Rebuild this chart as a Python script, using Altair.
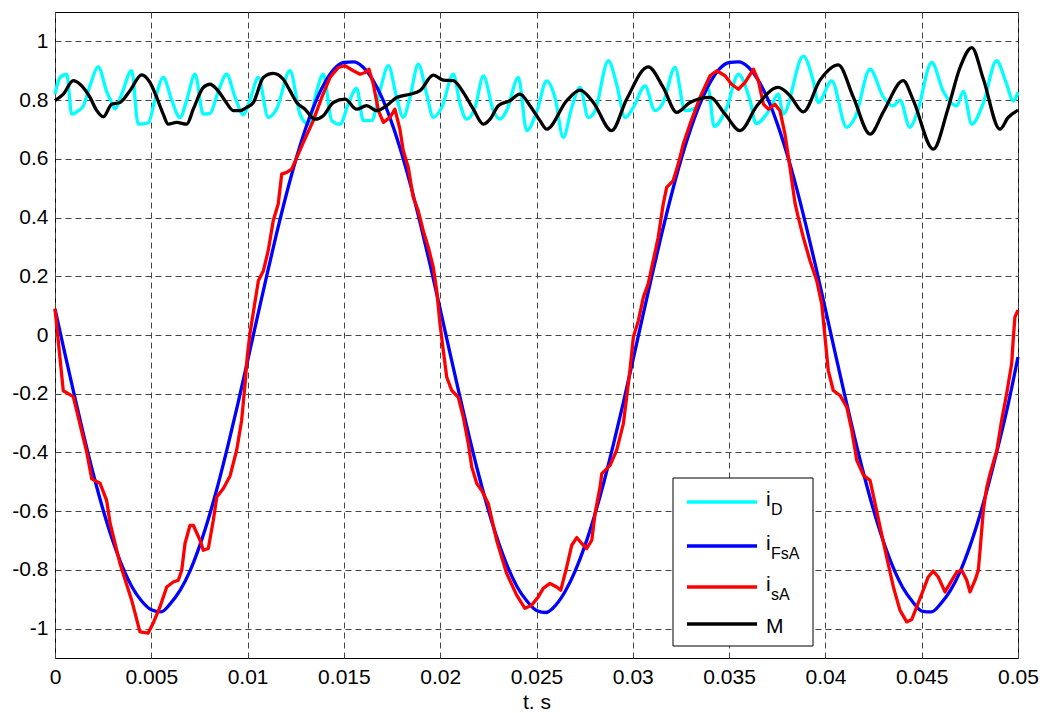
import altair as alt
import pandas as pd

# ---------------- data (time in ms) ----------------
iD_t_ms = [0, 0.26, 0.61, 0.87, 1.21, 1.47, 1.82, 2.25, 2.68, 2.94, 3.12, 3.46, 3.98, 4.32,
           4.84, 5.19, 5.62, 6.06, 6.49, 6.84, 7.27, 7.70, 8.05, 8.48, 8.91, 9.35, 9.78,
           10.12, 10.56, 11.07, 11.51, 12.20, 12.72, 13.15, 13.59, 13.93, 14.37, 14.80,
           15.23, 15.66, 16.01, 16.44, 16.87, 17.31, 17.74, 18.08, 18.43, 18.86, 19.30,
           19.64, 20.08, 20.68, 21.03, 21.38, 21.81, 22.24, 22.76, 23.10, 23.45, 24.06,
           24.49, 25.01, 25.53, 25.96, 26.39, 26.83, 27.26, 27.69, 28.04, 28.73, 29.16,
           29.60, 30.03, 30.63, 31.15, 31.58, 32.19, 32.71, 33.32, 33.92, 34.22, 34.88,
           35.48, 36.09, 36.40, 37.12, 37.55, 37.81, 38.85, 39.37, 39.63, 40.33, 41.10,
           41.54, 42.32, 43.01, 43.51, 43.87, 44.39, 44.74, 45.52, 46.12, 46.82, 47.16,
           47.60, 48.20, 48.89, 49.38, 49.76, 50.0]
iD_val = [0.82, 0.877, 0.888, 0.752, 0.764, 0.78, 0.85, 0.913, 0.83, 0.792, 0.77, 0.82, 0.90, 0.718,
          0.722, 0.80, 0.877, 0.80, 0.74, 0.80, 0.888, 0.752, 0.755, 0.83, 0.888, 0.81, 0.75,
          0.80, 0.877, 0.741, 0.77, 0.90, 0.752, 0.718, 0.832, 0.888, 0.73, 0.718,
          0.787, 0.84, 0.73, 0.73, 0.832, 0.917, 0.809, 0.741, 0.809, 0.922, 0.82,
          0.741, 0.775, 0.888, 0.787, 0.735, 0.775, 0.882, 0.764, 0.735, 0.764, 0.877,
          0.696, 0.76, 0.865, 0.809, 0.673, 0.775, 0.843, 0.741, 0.764, 0.934, 0.854,
          0.741, 0.775, 0.848, 0.764, 0.792, 0.911, 0.764, 0.775, 0.838, 0.71, 0.775,
          0.888, 0.798, 0.72, 0.77, 0.82, 0.752, 0.95, 0.865, 0.792, 0.865, 0.707,
          0.741, 0.905, 0.81, 0.78, 0.80, 0.707, 0.752, 0.928, 0.83, 0.78, 0.83,
          0.718, 0.79, 0.934, 0.86, 0.797, 0.827]

iFsA_t_ms = [0.5 * i for i in range(101)]
iFsA_val = [0.088,
            -0.059, -0.204, -0.344, -0.476, -0.596, -0.701, -0.789, -0.858, -0.906, -0.936,
            -0.943, -0.914, -0.869, -0.805, -0.720, -0.618, -0.501, -0.371, -0.233, -0.088,
            0.059, 0.204, 0.344, 0.476, 0.596, 0.701, 0.789, 0.858, 0.906, 0.928,
            0.930, 0.912, 0.869, 0.805, 0.720, 0.618, 0.501, 0.371, 0.233, 0.088,
            -0.059, -0.204, -0.344, -0.476, -0.596, -0.701, -0.789, -0.858, -0.906, -0.938,
            -0.945, -0.920, -0.872, -0.805, -0.720, -0.618, -0.501, -0.371, -0.233, -0.088,
            0.059, 0.204, 0.344, 0.476, 0.596, 0.701, 0.789, 0.858, 0.906, 0.928,
            0.930, 0.912, 0.869, 0.805, 0.720, 0.618, 0.501, 0.371, 0.233, 0.088,
            -0.059, -0.204, -0.344, -0.476, -0.596, -0.701, -0.789, -0.858, -0.906, -0.940,
            -0.943, -0.914, -0.869, -0.805, -0.720, -0.618, -0.501, -0.371, -0.233, -0.075]

isA_t_ms = [0, 0.43, 0.95, 1.65, 1.91, 2.34, 2.68, 2.86, 3.37, 3.98, 4.41, 4.84, 5.10, 5.45,
            5.80, 6.14, 6.40, 6.58, 6.75, 7.01, 7.18, 7.53, 7.70, 7.96, 8.22, 8.40, 8.74,
            9.09, 9.43, 9.69, 9.87, 9.98, 10.12, 10.30, 10.56, 10.82, 11.07, 11.33, 11.59,
            11.77, 12.03, 12.29, 12.63, 12.89, 13.41, 13.85, 14.28, 14.71, 15.06, 15.49,
            15.84, 16.10, 16.30, 16.53, 16.79, 17.05, 17.39, 17.65, 17.91, 18.08, 18.34,
            18.60, 18.86, 19.12, 19.38, 19.64, 19.82, 19.99, 20.16, 20.34, 20.60, 20.94,
            21.20, 21.46, 21.64, 21.90, 22.15, 22.50, 22.93, 23.45, 23.97, 24.40, 24.75,
            25.09, 25.35, 25.70, 26.05, 26.26, 26.57, 26.83, 27.09, 27.35, 27.61, 27.87,
            28.04, 28.30, 28.39, 28.82, 29.16, 29.51, 29.68, 29.85, 30.03, 30.29, 30.55,
            30.80, 31.06, 31.32, 31.58, 31.76, 32.10, 32.36, 32.62, 32.97, 33.49, 34.01,
            34.36, 34.79, 35.13, 35.48, 35.83, 36.26, 36.52, 36.78, 37.04, 37.38, 37.64,
            37.90, 38.16, 38.42, 38.59, 38.85, 39.20, 39.55, 39.81, 39.98, 40.15, 40.41,
            40.76, 41.11, 41.37, 41.63, 41.98, 42.32, 42.58, 42.84, 43.18, 43.53, 43.87,
            44.22, 44.48, 44.74, 45.08, 45.34, 45.60, 45.86, 46.21, 46.47, 46.82, 47.08,
            47.34, 47.51, 47.77, 47.94, 48.06, 48.20, 48.38, 48.55, 48.90, 49.15, 49.41,
            49.67, 49.76, 49.84, 50.0]
isA_val = [0.09, -0.19, -0.21, -0.40, -0.49, -0.505, -0.563, -0.641, -0.777, -0.903, -1.011, -1.015, -0.981, -0.926,
           -0.858, -0.841, -0.835, -0.801, -0.71, -0.648, -0.648, -0.699, -0.733, -0.727, -0.631, -0.552, -0.523,
           -0.48, -0.393, -0.291, -0.165, -0.075, 0.004, 0.078, 0.185, 0.219, 0.287, 0.389, 0.446,
           0.548, 0.554, 0.565, 0.616, 0.655, 0.73, 0.809, 0.877, 0.911, 0.917, 0.90,
           0.888, 0.894, 0.905, 0.854, 0.764, 0.724, 0.741, 0.769, 0.70, 0.628, 0.571,
           0.469, 0.423, 0.355, 0.299, 0.231, 0.151, 0.038, -0.053, -0.144, -0.189, -0.212,
           -0.28, -0.37, -0.45, -0.506, -0.529, -0.575, -0.699, -0.812, -0.886, -0.931, -0.92,
           -0.892, -0.863, -0.846, -0.858, -0.869, -0.79, -0.716, -0.69, -0.71, -0.727, -0.699,
           -0.608, -0.518, -0.472, -0.444, -0.393, -0.302, -0.212, -0.121, -0.007, 0.049, 0.129,
           0.174, 0.253, 0.333, 0.446, 0.503, 0.526, 0.582, 0.65, 0.718, 0.809, 0.883,
           0.90, 0.883, 0.854, 0.837, 0.86, 0.905, 0.866, 0.786, 0.769, 0.786, 0.764,
           0.684, 0.571, 0.45, 0.401, 0.333, 0.253, 0.185, 0.106, -0.007, -0.121, -0.189,
           -0.206, -0.246, -0.325, -0.427, -0.478, -0.495, -0.574, -0.654, -0.756, -0.858, -0.937,
           -0.977, -0.969, -0.926, -0.869, -0.824, -0.804, -0.824, -0.875, -0.846, -0.807, -0.801,
           -0.835, -0.875, -0.835, -0.801, -0.71, -0.597, -0.518, -0.472, -0.393, -0.291, -0.2,
           -0.098, -0.007, 0.061, 0.085]

M_t_ms = [0, 0.43, 0.95, 1.30, 1.82, 2.17, 2.51, 2.94, 3.37, 3.89, 4.50, 4.93, 5.28, 5.62,
          5.88, 6.32, 6.84, 7.18, 7.70, 8.05, 8.40, 8.83, 9.26, 9.61, 9.95, 10.30, 10.82,
          11.33, 11.85, 12.20, 12.55, 12.98, 13.50, 13.93, 14.45, 15.06, 15.66, 16.18, 16.70,
          17.22, 17.74, 18.43, 18.95, 19.64, 20.16, 20.68, 21.20, 21.72, 22.24, 22.59, 23.02,
          23.62, 24.14, 24.66, 25.18, 25.53, 26.57, 27.26, 27.95, 28.90, 29.68, 30.80, 31.58,
          32.28, 32.97, 34.01, 34.79, 35.57, 36.43, 37.55, 38.16, 38.85, 39.72, 40.67, 41.45,
          42.32, 43.01, 44.04, 44.56, 45.60, 46.36, 46.99, 47.60, 48.20, 49.06, 49.48, 50.0]
M_val = [0.798, 0.82, 0.866, 0.854, 0.809, 0.764, 0.743, 0.786, 0.792, 0.832, 0.886, 0.86, 0.809, 0.752,
         0.718, 0.724, 0.718, 0.769, 0.843, 0.854, 0.837, 0.798, 0.764, 0.764, 0.775, 0.792, 0.877,
         0.891, 0.871, 0.832, 0.792, 0.769, 0.735, 0.747, 0.792, 0.803, 0.769, 0.781, 0.764,
         0.781, 0.809, 0.82, 0.832, 0.885, 0.868, 0.866, 0.826, 0.769, 0.718, 0.735, 0.781,
         0.798, 0.82, 0.781, 0.73, 0.701, 0.798, 0.834, 0.792, 0.696, 0.803, 0.913, 0.843,
         0.758, 0.792, 0.809, 0.752, 0.696, 0.779, 0.843, 0.815, 0.76, 0.868, 0.92, 0.81,
         0.684, 0.76, 0.866, 0.80, 0.633, 0.77, 0.911, 0.979, 0.872, 0.701, 0.74, 0.766]

x_ticks = [0, 0.005, 0.01, 0.015, 0.02, 0.025, 0.03, 0.035, 0.04, 0.045, 0.05]
y_ticks = [-1, -0.8, -0.6, -0.4, -0.2, 0, 0.2, 0.4, 0.6, 0.8, 1]


def frame(t_ms, vals):
    return pd.DataFrame({"t": [v / 1000.0 for v in t_ms], "v": vals})


FONT = "Liberation Sans"

x_enc = alt.X("t:Q", scale=alt.Scale(domain=[0, 0.05], nice=False, zero=False),
              axis=alt.Axis(values=x_ticks, labelExpr="'' + datum.value", title="t. s",
                            grid=True, ticks=False, domain=False, labelFlush=False,
                            labelOverlap=False, labelPadding=8, labelFontSize=21,
                            titleFontSize=21, titleFontWeight="normal", titlePadding=4))
y_enc = alt.Y("v:Q", scale=alt.Scale(domain=[-1.1, 1.1], nice=False, zero=False),
              axis=alt.Axis(values=y_ticks, labelExpr="'' + datum.value", grid=True,
                            ticks=False, domain=False, labelFlush=False, labelOverlap=False,
                            labelPadding=7, labelFontSize=21),
              title=None)

series = [
    (iD_t_ms, iD_val, "#00FFFF", "monotone"),
    (iFsA_t_ms, iFsA_val, "#0000FF", "monotone"),
    (isA_t_ms, isA_val, "#FF0000", "linear"),
    (M_t_ms, M_val, "#000000", "monotone"),
]

layers = []
for i, (tt, vv, col, interp) in enumerate(series):
    enc = {"x": x_enc, "y": y_enc} if i == 0 else {"x": "t:Q", "y": "v:Q"}
    layers.append(
        alt.Chart(frame(tt, vv)).mark_line(color=col, strokeWidth=3.3, strokeJoin="round",
                                           interpolate=interp).encode(**enc)
    )

# ---------------- legend (drawn by hand for subscripts) ----------------
one = pd.DataFrame({"k": [0]})
layers.append(
    alt.Chart(one).mark_rect(fill="white", stroke="black", strokeWidth=1).encode(
        x=alt.value(618), x2=alt.value(758), y=alt.value(466), y2=alt.value(634))
)
legend_main = ["i", "i", "i", "M"]
legend_sub = ["D", "FsA", "sA", ""]
legend_col = ["#00FFFF", "#0000FF", "#FF0000", "#000000"]
legend_y = [490, 534, 575, 612]
for lab, sub, col, ly in zip(legend_main, legend_sub, legend_col, legend_y):
    layers.append(
        alt.Chart(one).mark_rule(color=col, strokeWidth=3.3).encode(
            x=alt.value(632), x2=alt.value(702), y=alt.value(ly))
    )
    layers.append(
        alt.Chart(pd.DataFrame({"s": [lab]})).mark_text(
            font=FONT, fontSize=21, align="left", baseline="alphabetic", color="black").encode(
            x=alt.value(711), y=alt.value(ly + (9 if lab == "M" else 4)), text="s:N")
    )
    if sub:
        layers.append(
            alt.Chart(pd.DataFrame({"s": [sub]})).mark_text(
                font=FONT, fontSize=16, align="left", baseline="alphabetic", color="black").encode(
                x=alt.value(716), y=alt.value(ly + 13), text="s:N")
        )

chart = alt.layer(*layers).properties(
    width=963, height=646,
    padding={"left": 55, "top": 12, "right": 29, "bottom": 55},
    autosize=alt.AutoSizeParams(type="none"),
).configure_view(
    stroke="black", strokeWidth=1
).configure_axis(
    labelFont=FONT, titleFont=FONT, labelColor="black", titleColor="black",
    gridColor="#444444", gridDash=[6, 4], gridWidth=1, gridOpacity=1
)

chart.save("out.html", embed_options={"renderer": "svg", "actions": False})
